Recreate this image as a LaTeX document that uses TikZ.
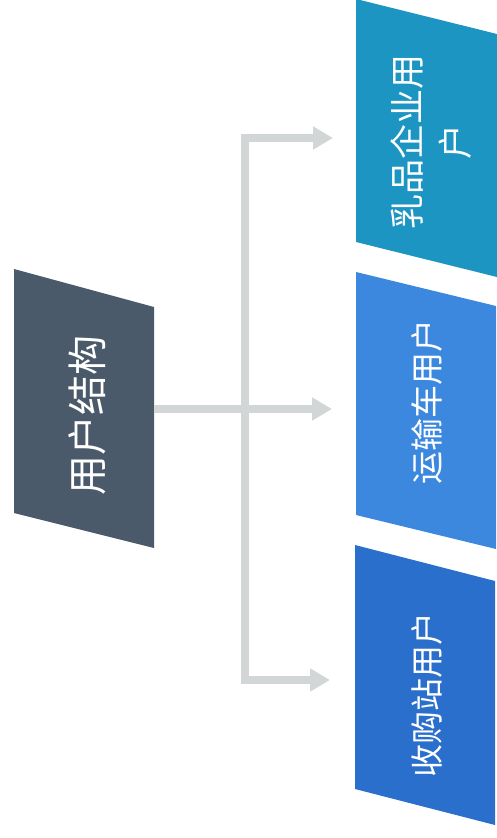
\documentclass[tikz,border=0pt]{standalone}
\usepackage{fontspec}
\newfontfamily\cjk{Noto Sans CJK SC}
\usetikzlibrary{arrows.meta}

\definecolor{rootgray}{HTML}{4B5A6B}
\definecolor{dairyteal}{HTML}{1C95C3}
\definecolor{truckblue}{HTML}{3D88DF}
\definecolor{stationblue}{HTML}{2B6FCC}
\definecolor{linkgray}{HTML}{D3D6D6}

\begin{document}
\begin{tikzpicture}[x=1pt,y=-1pt,>={Triangle[width=22pt,length=20pt]},
	link/.style={draw=linkgray,line width=8pt},
	word/.style={text=white,rotate=90,align=center,font=\cjk\fontsize{33}{48}\selectfont}]

\useasboundingbox (0,0) rectangle (497,838);

% slanted boxes
\fill[rootgray]    (14,269) -- (154,307) -- (154,548) -- (14,513) -- cycle;
\fill[dairyteal]   (356,-1) -- (497,34) -- (497,277) -- (356,242) -- cycle;
\fill[truckblue]   (356,272) -- (496,306) -- (496,549) -- (356,515) -- cycle;
\fill[stationblue] (355,545) -- (495,581) -- (495,825) -- (355,789) -- cycle;

\node[word,font=\cjk\fontsize{40}{48}\selectfont] (root) at (87,415) {用户结构};
\node[word,font=\cjk\fontsize{35}{48}\selectfont] (dairy) at (431,142) {乳品企业用\\户};
\node[word] (truck)   at (427,402) {运输车用户};
\node[word] (station) at (427,695) {收购站用户};

\coordinate (rootE)    at (154,409);
\coordinate (fork)     at (245,409);
\coordinate (dairyW)   at (333,138);
\coordinate (truckW)   at (332,409);
\coordinate (stationW) at (330,680);

\draw[link,->] (rootE) -- (truckW);
\draw[link,->] (fork) |- (dairyW);
\draw[link,->] (fork) |- (stationW);

\end{tikzpicture}
\end{document}
